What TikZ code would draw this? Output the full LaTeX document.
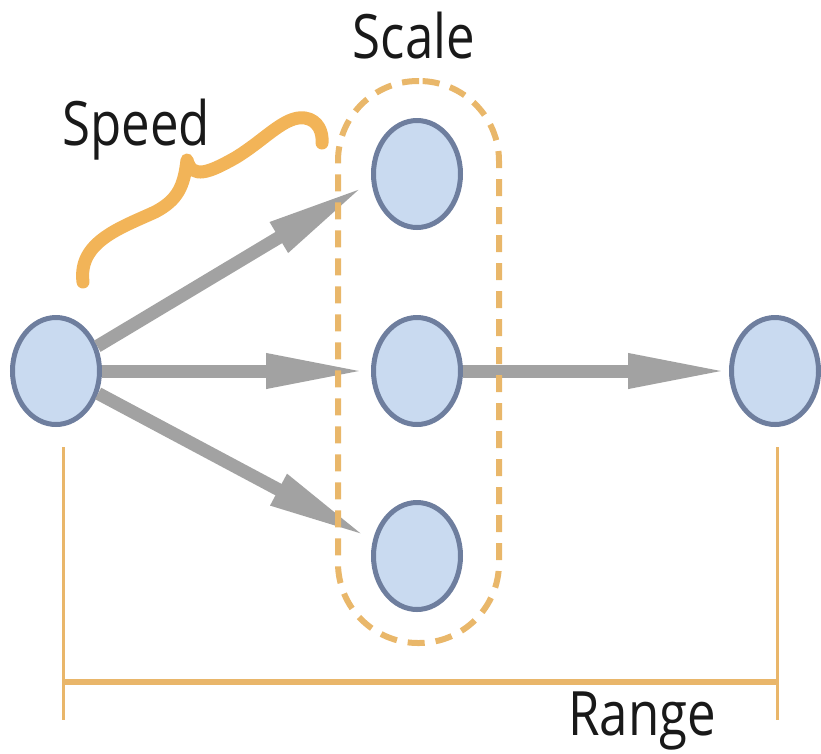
\documentclass[tikz,border=0pt]{standalone}
\usepackage{fontspec}
\setmainfont{Open Sans}
\usetikzlibrary{arrows.meta,shapes.geometric}
\definecolor{nodefill}{HTML}{C9DAF0}
\definecolor{nodeline}{HTML}{6E7E9E}
\definecolor{arrowgray}{HTML}{A2A2A2}
\definecolor{braceorange}{HTML}{F2B458}
\definecolor{dashorange}{HTML}{E9B76A}
\definecolor{rangeorange}{HTML}{E9B66A}
\begin{document}
\begin{tikzpicture}[x=1pt,y=-1pt,
  dot/.style={ellipse, draw=nodeline, fill=nodefill, line width=5pt,
    minimum width=87pt, minimum height=107pt, inner sep=0pt},
  flow/.style={draw=arrowgray, line width=13pt,
    -{Triangle[length=100pt,width=32pt]}},
  lbl/.style={inner sep=0pt, anchor=base west, text=black!90,
    font=\fontsize{51}{60}\selectfont},
  rangeline/.style={draw=rangeorange, line width=3pt},
  groupbox/.style={draw=dashorange, line width=6pt, dash pattern=on 17pt off 11pt,
    rounded corners=80pt, minimum width=161pt, minimum height=562pt, inner sep=0pt}]
\useasboundingbox (0,0) rectangle (821,753);
% nodes
\node[dot] (L) at (56,371) {};
\node[dot] (T) at (417,174) {};
\node[dot] (M) at (417,371) {};
\node[dot] (B) at (417,556) {};
\node[dot] (R) at (775,371) {};
% arrows
\draw[flow, shorten >=8pt] (L) -- (T.190);
\draw[flow, shorten >=5pt] (L.east) -- (M.west);
\draw[flow, shorten >=7pt] (L) -- (B.160);
\draw[flow, shorten >=1pt] (M.east) -- (R.west);
% group
\node[groupbox] (grp) at (418.5,362) {};
% brace
\draw[braceorange, line width=13pt, line cap=round, line join=round]
  (83,282) .. controls (78,242) and (120,228) .. (155,212)
  .. controls (178,200) and (184,186) .. (187,160)
  .. controls (192,180) and (210,172) .. (235,158)
  .. controls (265,140) and (285,115) .. (305,118)
  .. controls (318,120) and (323,132) .. (322,143);
% range
\coordinate (r1) at (63,447);
\coordinate (r2) at (63,720);
\coordinate (r3) at (777,447);
\coordinate (r4) at (777,720);
\coordinate (h1) at (63,682);
\coordinate (h2) at (777,682);
\draw[rangeline] (r1) -- (r2);
\draw[rangeline] (r3) -- (r4);
\draw[rangeline, line width=6pt] (h1) -- (h2);
% labels
\node[lbl] (speed) at (62,145) {\scalebox{1}[1.2]{Speed}};
\node[lbl, anchor=base] (scale) at (414,58) {\scalebox{1}[1.2]{Scale}};
\node[lbl] (range) at (568,735) {\scalebox{1}[1.2]{Range}};
\end{tikzpicture}
\end{document}
